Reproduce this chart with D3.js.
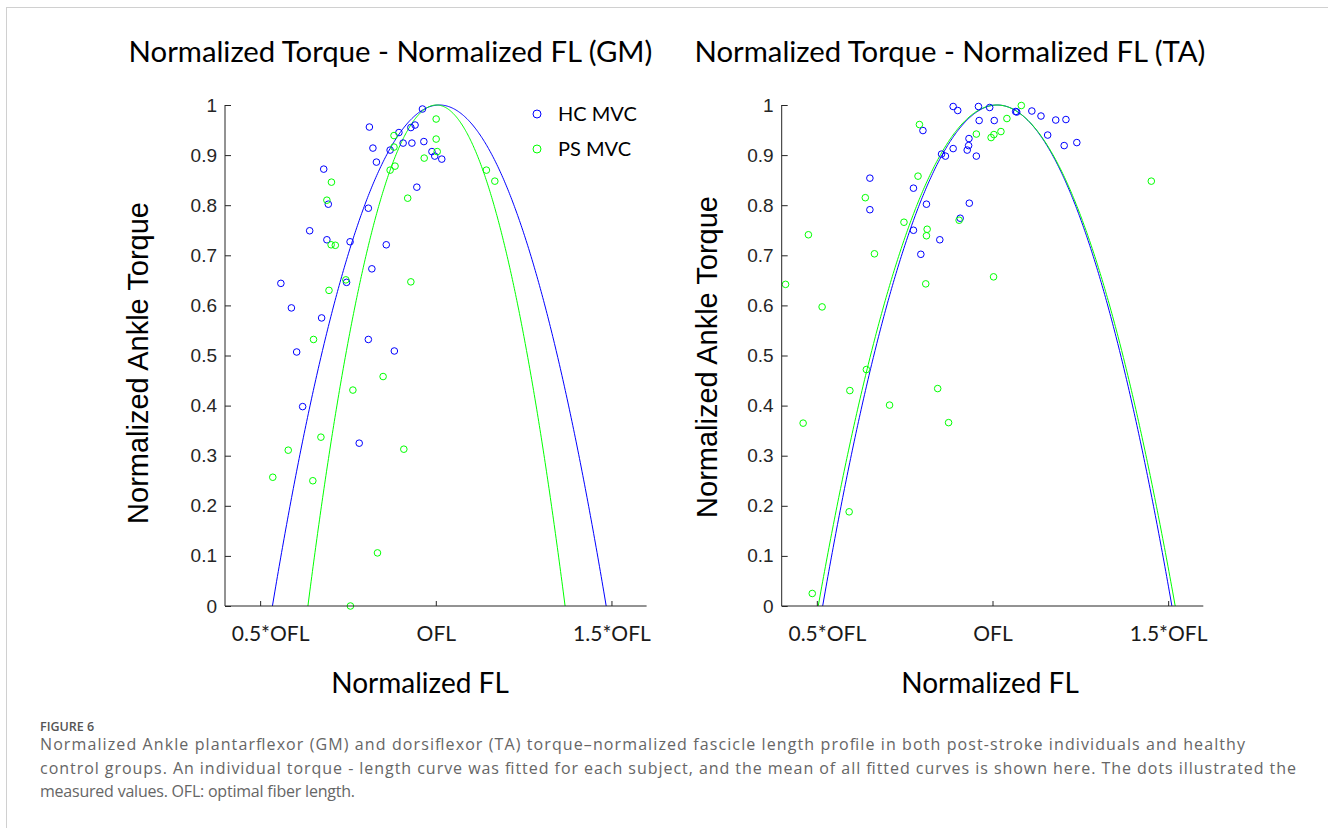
<!DOCTYPE html>
<html>
<head>
<meta charset="utf-8">
<script src="https://cdn.jsdelivr.net/npm/d3@7"></script>
<style>
  body { margin: 0; background: #fff; }
  svg { display: block; }
</style>
</head>
<body>
<script>
// x ticks (fraction of OFL) and labels
const xTicks = [0.5, 1.0, 1.5]
const xTickLabels = ["0.5*OFL", "OFL", "1.5*OFL"]
const yTicks = [0, 0.1, 0.2, 0.3, 0.4, 0.5, 0.6, 0.7, 0.8, 0.9, 1]

// GM panel: measured points [normalized FL, normalized torque]
const gmHC = [
  [0.962, 0.992], [0.811, 0.956], [0.895, 0.945], [0.929, 0.955], [0.941, 0.960],
  [0.907, 0.924], [0.932, 0.924], [0.966, 0.927], [0.821, 0.914], [0.870, 0.910],
  [0.989, 0.907], [0.997, 0.898], [1.017, 0.892], [0.831, 0.886], [0.681, 0.872],
  [0.694, 0.802], [0.808, 0.794], [0.946, 0.836], [0.641, 0.749], [0.690, 0.731],
  [0.756, 0.727], [0.859, 0.721], [0.818, 0.673], [0.559, 0.644], [0.746, 0.646],
  [0.589, 0.595], [0.675, 0.575], [0.808, 0.532], [0.604, 0.507], [0.882, 0.509],
  [0.621, 0.398], [0.782, 0.325]
]
const gmPS = [
  [1.001, 0.972], [0.881, 0.939], [1.001, 0.932], [1.004, 0.907], [0.881, 0.916],
  [0.967, 0.894], [0.870, 0.870], [0.884, 0.878], [1.144, 0.870], [1.168, 0.848],
  [0.703, 0.846], [0.690, 0.810], [0.920, 0.814], [0.702, 0.721], [0.714, 0.720],
  [0.744, 0.651], [0.929, 0.647], [0.696, 0.630], [0.652, 0.532], [0.850, 0.458],
  [0.764, 0.431], [0.673, 0.337], [0.580, 0.311], [0.909, 0.313], [0.536, 0.257],
  [0.650, 0.250], [0.834, 0.106], [0.757, 0.000]
]

// TA panel: measured points
const taHC = [
  [0.888, 0.997], [0.901, 0.989], [0.960, 0.997], [0.992, 0.995], [1.066, 0.987],
  [1.069, 0.986], [1.112, 0.988], [1.138, 0.978], [1.180, 0.970], [1.209, 0.971],
  [0.962, 0.969], [1.005, 0.969], [0.802, 0.949], [0.933, 0.933], [0.932, 0.919],
  [0.928, 0.910], [0.888, 0.913], [0.855, 0.902], [0.866, 0.898], [0.954, 0.898],
  [1.157, 0.940], [1.204, 0.919], [1.240, 0.925], [0.651, 0.854], [0.775, 0.834],
  [0.651, 0.791], [0.812, 0.802], [0.934, 0.804], [0.908, 0.774], [0.775, 0.750],
  [0.850, 0.731], [0.796, 0.702]
]
const taPS = [
  [1.082, 0.999], [1.041, 0.973], [0.792, 0.961], [0.954, 0.942], [0.996, 0.935],
  [1.004, 0.941], [1.024, 0.947], [1.452, 0.848], [0.788, 0.858], [0.638, 0.815],
  [0.748, 0.766], [0.905, 0.770], [0.814, 0.752], [0.812, 0.739], [0.476, 0.741],
  [0.664, 0.703], [0.810, 0.643], [1.003, 0.657], [0.411, 0.642], [0.515, 0.597],
  [0.641, 0.472], [0.594, 0.430], [0.844, 0.434], [0.707, 0.401], [0.461, 0.365],
  [0.875, 0.366], [0.592, 0.188], [0.487, 0.025]
]

// mean fitted curves: [optimum FL, half width at zero torque]
const gmFitHC = [1.010, 0.475]
const gmFitPS = [1.002, 0.366]
const taFitHC = [1.0136, 0.497]
const taFitPS = [1.012, 0.508]

const seriesNames = ["HC MVC", "PS MVC"]
const blue = "#0000ff"
const green = "#00ff00"

const W = 1328, H = 828
const svg = d3.select("body").append("svg").attr("width", W).attr("height", H)

// frame
svg.append("rect").attr("x", 6.5).attr("y", 7.5).attr("width", W + 20).attr("height", H + 20)
  .attr("fill", "none").attr("stroke", "#d0d0d0").attr("stroke-width", 1)

const calibri = "Lato, 'Open Sans', sans-serif"
const arial = "'Liberation Sans', Arial, sans-serif"

function panel(o) {
  const left = o.left
  const x = d3.scaleLinear().domain([0.4, 1.6]).range([left, left + 421.6])
  const y = d3.scaleLinear().domain([0, 1]).range([606, 105])
  const g = svg.append("g")

  // curves
  function curve(fit) {
    const [c, hw] = fit
    const xs = d3.range(c - hw, c + hw + 1e-9, hw / 200)
    xs.push(c + hw)
    return xs.map(v => [v, Math.max(0, 1 - ((v - c) / hw) ** 2)])
  }
  const line = d3.line().x(d => x(d[0])).y(d => y(d[1]))
  g.append("path").datum(curve(o.fitHC)).attr("d", line)
    .attr("fill", "none").attr("stroke", blue).attr("stroke-width", 1)
  g.append("path").datum(curve(o.fitPS)).attr("d", line)
    .attr("fill", "none").attr("stroke", green).attr("stroke-width", 1)

  g.selectAll("circle.hc").data(o.hc).enter().append("circle")
    .attr("cx", d => x(d[0])).attr("cy", d => y(d[1])).attr("r", 3.3)
    .attr("fill", "none").attr("stroke", blue).attr("stroke-width", 1)
  g.selectAll("circle.ps").data(o.ps).enter().append("circle")
    .attr("cx", d => x(d[0])).attr("cy", d => y(d[1])).attr("r", 3.3)
    .attr("fill", "none").attr("stroke", green).attr("stroke-width", 1)

  // axes
  const yAxis = d3.axisLeft(y).tickValues(yTicks).tickSize(-6).tickPadding(8)
    .tickFormat(d => d === 0 || d === 1 ? String(d) : d.toFixed(1))
  const ya = g.append("g").attr("transform", `translate(${left},0)`).call(yAxis)
  ya.select(".domain").attr("stroke", "#262626").attr("d", `M0,${y(1)}V${y(0)}`)
  ya.selectAll(".tick line").attr("stroke", "#262626")
  ya.selectAll(".tick text").attr("font-family", arial)
    .attr("font-size", 19).attr("fill", "#262626")

  const xAxis = d3.axisBottom(x).tickValues(xTicks).tickSize(-5).tickPadding(20)
    .tickFormat((d, i) => xTickLabels[i])
  const xa = g.append("g").attr("transform", `translate(0,606)`).call(xAxis)
  xa.select(".domain").attr("stroke", "#262626").attr("d", `M${left},0H${left + 421.6}`)
  xa.selectAll(".tick line").attr("stroke", "#262626")
  xa.selectAll(".tick text").attr("font-family", calibri).attr("font-size", 21).attr("fill", "#1a1a1a")
    .attr("dx", (d, i) => i === 0 ? 10 : 0)

  // title and labels
  g.append("text").attr("x", o.titleX).attr("y", 62).attr("text-anchor", "middle")
    .attr("font-family", calibri).attr("font-size", 29.3).attr("fill", "#000").text(o.title)
  g.append("text").attr("x", o.xLabelX).attr("y", 693).attr("text-anchor", "middle")
    .attr("font-family", calibri).attr("font-size", 28).attr("fill", "#000").text("Normalized FL")
  g.append("text").attr("transform", `translate(${o.yLabelX},${o.yLabelY}) rotate(-90)`)
    .attr("text-anchor", "middle").attr("font-family", arial)
    .attr("font-size", 29).attr("fill", "#000").text("Normalized Ankle Torque")

  if (o.legend) {
    const lg = g.append("g").selectAll("g").data(seriesNames).enter().append("g")
      .attr("transform", (d, i) => `translate(537,${114 + i * 35})`)
    lg.append("circle").attr("r", 4).attr("fill", "none").attr("stroke-width", 1)
      .attr("stroke", (d, i) => i === 0 ? blue : green)
    lg.append("text").attr("x", 21).attr("y", 7).attr("font-family", calibri)
      .attr("font-size", 20).attr("fill", "#000").text(d => d)
  }
}

panel({ left: 225, title: "Normalized Torque - Normalized FL (GM)", hc: gmHC, ps: gmPS,
  fitHC: gmFitHC, fitPS: gmFitPS, legend: true,
  titleX: 390.5, xLabelX: 420, yLabelX: 147.5, yLabelY: 363 })
panel({ left: 781.7, title: "Normalized Torque - Normalized FL (TA)", hc: taHC, ps: taPS,
  fitHC: taFitHC, fitPS: taFitPS, legend: false,
  titleX: 950, xLabelX: 990, yLabelX: 716.5, yLabelY: 357 })

// caption
const captionLines = [
  "Normalized Ankle plantarflexor (GM) and dorsiflexor (TA) torque\u2013normalized fascicle length profile in both post-stroke individuals and healthy",
  "control groups. An individual torque - length curve was fitted for each subject, and the mean of all fitted curves is shown here. The dots illustrated the",
  "measured values. OFL: optimal fiber length."
]
const captionWidths = [1205, 1256, 315]
svg.append("text").attr("x", 40).attr("y", 731).attr("font-family", "'Open Sans', sans-serif")
  .attr("font-size", 12.5).attr("font-weight", 600).attr("fill", "#555").text("FIGURE 6")
svg.append("g").selectAll("text").data(captionLines).enter().append("text")
  .attr("x", 40).attr("y", (d, i) => 750 + i * 23.5)
  .attr("textLength", (d, i) => captionWidths[i]).attr("lengthAdjust", "spacing")
  .attr("font-family", "'Open Sans', sans-serif").attr("font-size", 16).attr("fill", "#666")
  .text(d => d)
</script>
</body>
</html>
